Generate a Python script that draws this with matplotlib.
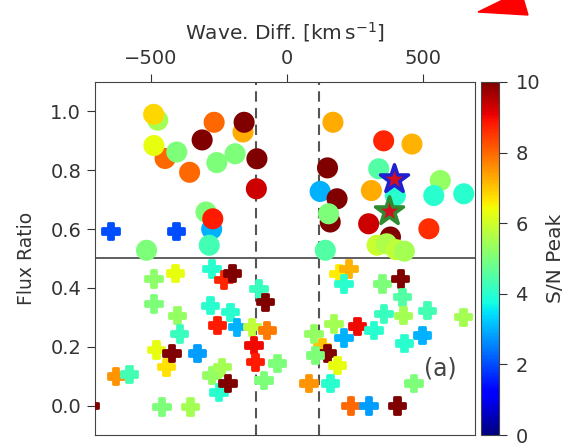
import numpy as np
import matplotlib
matplotlib.use('Agg')
import matplotlib.pyplot as plt
from matplotlib.patches import Polygon

# circles: flux ratio above 0.5
circ_x = [-475, -490, -268, -162, -158, -312, -448, -489, -405, -358, -258, -191,
          -111, -113, -298, -277, -273, -286, -516,
          168, 148, 121, 183, 158, 152, 140, 354, 458, 336, 309, 397, 299,
          562, 538, 648, 520, 379, 330, 365, 400, 430]
circ_y = [0.97, 0.99, 0.963, 0.93, 0.963, 0.903, 0.84, 0.884, 0.862, 0.793, 0.826, 0.856,
          0.839, 0.737, 0.658, 0.60, 0.635, 0.545, 0.528,
          0.963, 0.808, 0.728, 0.703, 0.624, 0.652, 0.528, 0.90, 0.889, 0.805, 0.731, 0.714, 0.618,
          0.765, 0.714, 0.72, 0.601, 0.573, 0.545, 0.55, 0.53, 0.525]
circ_sn = [5.5, 6.8, 8.0, 7.3, 10, 10, 8.0, 6.3, 5.0, 8.0, 5.0, 5.0,
           10, 9.3, 5.0, 3.0, 8.8, 4.3, 5.0,
           7.3, 10, 3.0, 10, 10, 5.0, 4.5, 8.7, 7.2, 4.5, 7.3, 4.0, 9.3,
           5.3, 4.0, 4.0, 8.6, 10, 5.9, 5.6, 5.8, 5.5]

# plus markers: flux ratio below 0.5 (and two blue ones above)
plus_x = [-648, -408, -491, -412, -277, -234, -203, -491, -283, -210, -185, -258,
          -405, -396, -482, -445, -424, -330, -629, -580, -277, -240, -252, -219,
          -461, -357, -725,
          -105, -81, -130, -75, -124, -118, -38, -87,
          189, 225, 207, 348, 415, 422, 354, 425, 513, 646, 256, 317, 495, 428,
          207, 97, 170, 128, 146, 183, 103, 78, 158, 464, 232, 299, 403]
plus_y = [0.593, 0.593, 0.432, 0.451, 0.466, 0.428, 0.451, 0.347, 0.341, 0.319, 0.268, 0.274,
          0.307, 0.245, 0.191, 0.132, 0.178, 0.178, 0.10, 0.107, 0.104, 0.132, 0.047, 0.076,
          -0.003, -0.003, 0.0,
          0.398, 0.353, 0.268, 0.257, 0.206, 0.149, 0.144, 0.087,
          0.449, 0.466, 0.415, 0.415, 0.432, 0.37, 0.313, 0.307, 0.324, 0.302, 0.27, 0.257, 0.24, 0.212,
          0.232, 0.245, 0.279, 0.2, 0.178, 0.138, 0.172, 0.076, 0.076, 0.076, 0.0, 0.0, 0.0]
plus_sn = [2.0, 2.0, 5.2, 6.3, 4.0, 8.7, 10, 5.0, 4.0, 4.0, 3.0, 8.8,
           5.3, 4.2, 6.3, 6.7, 10, 2.8, 7.5, 4.3, 5.3, 5.5, 4.0, 10,
           5.0, 5.5, 10,
           4.2, 10, 5.8, 7.8, 9.0, 8.8, 5.0, 5.0,
           6.6, 7.2, 4.0, 5.0, 10, 4.5, 4.2, 5.5, 4.3, 5.5, 9.0, 4.0, 3.0, 4.0,
           3.0, 5.3, 5.5, 7.0, 10, 6.3, 5.0, 7.5, 4.0, 5.0, 8.0, 2.8, 10]

star_x = [391, 372]
star_y = [0.771, 0.663]
star_edge = ['#2020d0', '#2e8b30']

fig = plt.figure(figsize=(5.76, 4.48), dpi=100)
ax = fig.add_axes([0.165, 0.029, 0.66, 0.788])
cax = fig.add_axes([0.835, 0.029, 0.031, 0.788])

norm = plt.Normalize(0, 10)
sc = ax.scatter(circ_x, circ_y, c=circ_sn, cmap='jet', norm=norm, s=230,
                marker='o', linewidths=0, zorder=3)
ax.scatter(plus_x, plus_y, c=plus_sn, cmap='jet', norm=norm, s=140,
           marker='P', linewidths=2.0, edgecolors='face', zorder=3)
for x, y, ec in zip(star_x, star_y, star_edge):
    ax.scatter([x], [y], s=450, marker='*', facecolor='#d01020', edgecolor=ec,
               linewidths=2.5, zorder=4)

ax.axhline(0.5, color='#444444', lw=1.2, zorder=2)
for xv in [-115, 115]:
    ax.axvline(xv, color='#555555', lw=1.5, ls=(0, (5, 3)), zorder=2)

ax.set_xlim(-705, 690)
ax.set_ylim(-0.1, 1.1)
ax.xaxis.tick_top()
ax.xaxis.set_label_position('top')
ax.set_xticks([-500, 0, 500])
ax.set_xticklabels(['\u2212500', '0', '500'])
ax.set_yticks([0.0, 0.2, 0.4, 0.6, 0.8, 1.0])
ax.set_xlabel('Wave. Diff. [km$\\,$s$^{-1}$]', fontsize=14.5, labelpad=7, color='#333333')
ax.set_ylabel('Flux Ratio', fontsize=13.5, color='#333333', labelpad=10)
ax.tick_params(labelsize=14, colors='#333333', length=6, pad=4)
for sp in ax.spines.values():
    sp.set_color('#444444')
ax.text(562, 0.125, '(a)', fontsize=17, color='#444444', ha='center', va='center')

cb = fig.colorbar(sc, cax=cax)
cb.set_ticks([0, 2, 4, 6, 8, 10])
cb.set_label('S/N Peak', fontsize=14.5, color='#333333', labelpad=4)
cb.ax.tick_params(labelsize=14, colors='#333333', length=6, pad=6)
cb.outline.set_edgecolor('#444444')

# red arrow tip clipped at the top edge
tri = Polygon([[478 / 576, 1 - 12 / 448], [528 / 576, 1 - 15 / 448], [521 / 576, 1.02]],
              closed=True, transform=fig.transFigure, color='red', clip_on=False)
fig.patches.append(tri)

fig.savefig('out.png', dpi=100)
